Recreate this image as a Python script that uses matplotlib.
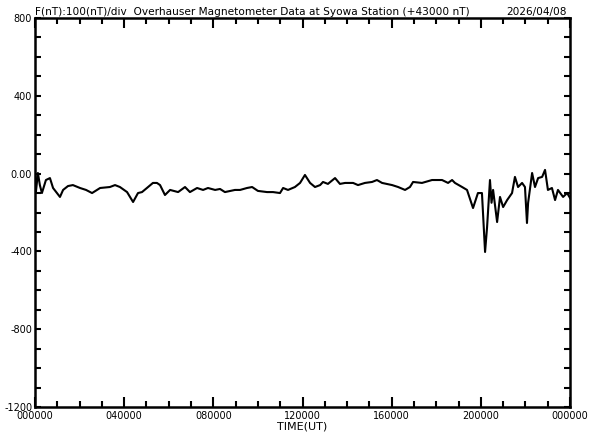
import numpy as np
import matplotlib
matplotlib.use("Agg")
import matplotlib.pyplot as plt
from matplotlib.ticker import MultipleLocator, FixedLocator

# data (hours UT, F - 43000 nT)
hours = [0.00, 0.04, 0.13, 0.22, 0.31, 0.49, 0.67, 0.81, 1.12, 1.26, 1.48, 1.70, 2.02,
         2.29, 2.56, 2.92, 3.36, 3.59, 3.81, 4.13, 4.40, 4.62, 4.80, 5.02, 5.29,
         5.47, 5.61, 5.83, 6.06, 6.42, 6.73, 6.95, 7.27, 7.54, 7.76, 8.08, 8.30,
         8.52, 8.97, 9.20, 9.51, 9.74, 10.00, 10.41, 10.68, 10.99, 11.13, 11.35,
         11.66, 11.89, 12.11, 12.34, 12.56, 12.79, 12.92, 13.14, 13.46, 13.68,
         13.91, 14.27, 14.49, 14.80, 15.12, 15.34, 15.57, 16.02, 16.29, 16.60,
         16.82, 16.96, 17.36, 17.81, 18.26, 18.53, 18.71, 18.84, 19.16, 19.38,
         19.65, 19.87, 20.05, 20.19, 20.28, 20.41, 20.48, 20.55, 20.73, 20.86, 21.00,
         21.18, 21.40, 21.53, 21.67, 21.85, 21.98, 22.07, 22.12, 22.30, 22.43,
         22.57, 22.75, 22.88, 23.01, 23.19, 23.33, 23.46, 23.69, 23.87, 24.00]
f_nt = [3, -95, 3, -60, -100, -33, -23, -74, -120, -84, -64, -59, -74,
        -84, -100, -74, -69, -59, -69, -95, -146, -100, -95, -74, -48,
        -48, -59, -110, -84, -95, -69, -95, -74, -84, -74, -84, -79,
        -95, -84, -84, -74, -69, -89, -95, -95, -100, -74, -84,
        -69, -48, -7, -48, -69, -59, -43, -53, -23, -53,
        -48, -48, -59, -48, -43, -33, -48, -59, -69, -84,
        -69, -43, -48, -33, -33, -48, -33, -48, -69, -84,
        -177, -100, -100, -403, -275, -33, -150, -84, -249, -120, -172,
        -136, -100, -17, -69, -48, -69, -254, -151, 3, -69,
        -23, -17, 19, -84, -74, -136, -84, -120, -100, -125]

xtick_pos = [0, 4, 8, 12, 16, 20, 24]
xtick_lab = ["000000", "040000", "080000", "120000", "160000", "200000", "000000"]
ytick_pos = [-1200, -800, -400, 0, 400, 800]
ytick_lab = ["-1200", "-800", "-400", "0.00", "400", "800"]

fig = plt.figure(figsize=(5.92, 4.40), dpi=100)
ax = fig.add_axes([35/592, 1-407/440, 535/592, 389/440])

ax.plot(hours, f_nt, color="black", lw=1.5)

ax.set_xlim(0, 24)
ax.set_ylim(-1200, 800)
ax.xaxis.set_major_locator(FixedLocator(xtick_pos))
ax.set_xticklabels(xtick_lab)
ax.xaxis.set_minor_locator(MultipleLocator(1))
ax.yaxis.set_major_locator(FixedLocator(ytick_pos))
ax.set_yticklabels(ytick_lab)
ax.yaxis.set_minor_locator(MultipleLocator(100))

ax.tick_params(which="both", direction="in", top=True, right=True, width=1.5,
               labelsize=7, pad=2)
ax.tick_params(axis="x", pad=3)
ax.tick_params(which="major", length=7)
ax.tick_params(which="minor", length=4)
ax.tick_params(axis="y", which="both", length=4)
for s in ax.spines.values():
    s.set_linewidth(1.8)

ax.set_xlabel("TIME(UT)", fontsize=8, labelpad=0)
fig.text(35/592, 1-15/440,
         "F(nT):100(nT)/div  Overhauser Magnetometer Data at Syowa Station (+43000 nT)",
         fontsize=7.6, ha="left", va="baseline")
fig.text(567/592, 1-15/440, "2026/04/08", fontsize=7.6, ha="right", va="baseline")

fig.savefig("out.png", dpi=100)
